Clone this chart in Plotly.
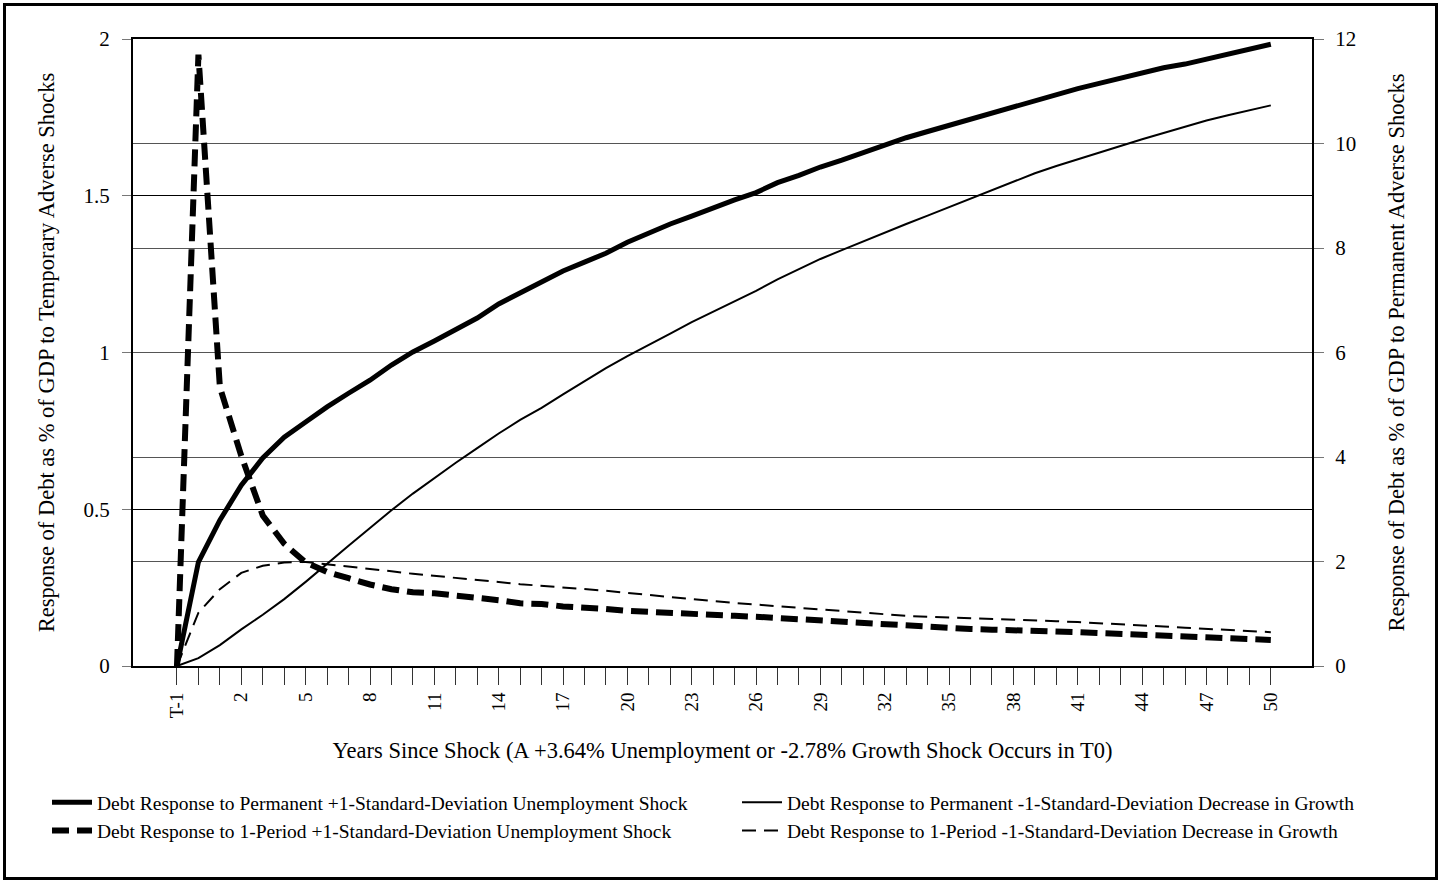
import plotly.graph_objects as go

categories = ["T-1", "T0"] + [str(k) for k in range(1, 51)]

# Permanent shocks (right axis, 0-12)
perm_unemp = [0, 1.99, 2.79, 3.46, 3.98, 4.38, 4.67, 4.96, 5.22, 5.47, 5.76, 6.01, 6.22, 6.43,
              6.66, 6.93, 7.14, 7.35, 7.56, 7.73, 7.90, 8.11, 8.29, 8.46, 8.61, 8.77, 8.92, 9.06,
              9.25, 9.39, 9.55, 9.68, 9.83, 9.97, 10.11, 10.23, 10.35, 10.47, 10.58, 10.70, 10.83,
              10.95, 11.05, 11.15, 11.25, 11.36, 11.45, 11.52, 11.62, 11.71, 11.80, 11.90]
perm_growth = [0, 0.15, 0.40, 0.70, 0.98, 1.28, 1.61, 1.96, 2.30, 2.64, 2.98, 3.30, 3.60, 3.89,
               4.17, 4.45, 4.71, 4.94, 5.20, 5.45, 5.70, 5.93, 6.14, 6.36, 6.58, 6.78, 6.98, 7.18,
               7.40, 7.60, 7.79, 7.96, 8.13, 8.30, 8.46, 8.62, 8.78, 8.94, 9.10, 9.26, 9.43, 9.57,
               9.70, 9.83, 9.96, 10.08, 10.20, 10.32, 10.44, 10.54, 10.64, 10.73]
# Temporary shocks (left axis, 0-2)
temp_unemp = [0, 1.95, 0.89, 0.67, 0.48, 0.39, 0.33, 0.30, 0.28, 0.26, 0.245, 0.235, 0.232, 0.226,
              0.22, 0.21, 0.20, 0.198, 0.19, 0.188, 0.182, 0.176, 0.172, 0.168, 0.165, 0.163, 0.160,
              0.157, 0.153, 0.148, 0.144, 0.140, 0.137, 0.132, 0.127, 0.124, 0.121, 0.118, 0.116,
              0.115, 0.113, 0.111, 0.108, 0.105, 0.102, 0.100, 0.097, 0.095, 0.093, 0.091, 0.088, 0.083]
temp_growth = [0, 0.17, 0.245, 0.297, 0.32, 0.33, 0.332, 0.325, 0.318, 0.31, 0.302, 0.294, 0.288,
               0.281, 0.275, 0.268, 0.261, 0.256, 0.250, 0.245, 0.240, 0.233, 0.226, 0.219, 0.213,
               0.207, 0.201, 0.196, 0.191, 0.186, 0.180, 0.175, 0.169, 0.164, 0.160, 0.157, 0.155,
               0.153, 0.151, 0.149, 0.146, 0.143, 0.140, 0.137, 0.134, 0.130, 0.126, 0.122, 0.118,
               0.114, 0.111, 0.108]

names = [
    "Debt Response to Permanent +1-Standard-Deviation Unemployment Shock",
    "Debt Response to 1-Period +1-Standard-Deviation Unemployment Shock",
    "Debt Response to Permanent -1-Standard-Deviation Decrease in Growth",
    "Debt Response to 1-Period -1-Standard-Deviation Decrease in Growth",
]

tick_text = [c if i % 3 == 0 else "" for i, c in enumerate(categories)]

FONT = "Liberation Serif, Times New Roman, serif"
W, H = 1442, 884
L, R, T, B = 133, 130, 39, 218
PW, PH = W - L - R, H - T - B

def px(xp):
    return (xp - L) / PW

def py(yp):
    return (H - B - yp) / PH

fig = go.Figure()
fig.add_trace(go.Scatter(x=categories, y=perm_unemp, name=names[0], yaxis="y2", mode="lines",
                         line=dict(color="black", width=5), legend="legend"))
fig.add_trace(go.Scatter(x=categories, y=temp_unemp, name=names[1], yaxis="y", mode="lines",
                         line=dict(color="black", width=6, dash="17px,8px"), legend="legend"))
fig.add_trace(go.Scatter(x=categories, y=perm_growth, name=names[2], yaxis="y2", mode="lines",
                         line=dict(color="black", width=2), legend="legend2"))
fig.add_trace(go.Scatter(x=categories, y=temp_growth, name=names[3], yaxis="y", mode="lines",
                         line=dict(color="black", width=2, dash="14px,8px"), legend="legend2"))

fig.update_layout(
    width=W, height=H,
    margin=dict(l=L, r=R, t=T, b=B),
    paper_bgcolor="white", plot_bgcolor="white",
    font=dict(family=FONT, color="black", size=18),
    xaxis=dict(
        type="category", range=[-2.05, 52.92],
        tickmode="array", tickvals=categories, ticktext=tick_text,
        tickangle=-90, ticks="outside", ticklen=17, tickcolor="#333", tickwidth=1,
        tickfont=dict(size=19),
        showgrid=False, showline=True, linecolor="black", linewidth=2, mirror=True,
        title=dict(text="Years Since Shock (A +3.64% Unemployment or -2.78% Growth Shock Occurs in T0)",
                   font=dict(size=22.5), standoff=25),
    ),
    yaxis=dict(
        range=[0, 2], tickvals=[0, 0.5, 1, 1.5, 2], ticktext=["0", "0.5", "1", "1.5", "2"],
        ticks="outside", ticklen=9, tickcolor="#777", tickfont=dict(size=21),
        ticklabelstandoff=8,
        showgrid=True, gridcolor="black", gridwidth=1, zeroline=False,
        showline=True, linecolor="black", linewidth=2,
        title=dict(text="Response of Debt as % of GDP to Temporary Adverse Shocks", font=dict(size=22.5), standoff=23),
    ),
    yaxis2=dict(
        range=[0, 12], tickvals=[0, 2, 4, 6, 8, 10, 12], overlaying="y", side="right",
        ticks="outside", ticklen=10, tickcolor="#777", tickfont=dict(size=21),
        ticklabelstandoff=7,
        showgrid=True, gridcolor="#555", gridwidth=1, zeroline=False,
        showline=True, linecolor="black", linewidth=2,
        title=dict(text="Response of Debt as % of GDP to Permanent Adverse Shocks", font=dict(size=22.5), standoff=33),
    ),
    legend=dict(x=px(47), y=py(783), xanchor="left", yanchor="top", orientation="v",
                font=dict(size=19.5), tracegroupgap=0, itemwidth=40, bgcolor="rgba(0,0,0,0)"),
    legend2=dict(x=px(737), y=py(783), xanchor="left", yanchor="top", orientation="v",
                 font=dict(size=19.5), tracegroupgap=0, itemwidth=40, bgcolor="rgba(0,0,0,0)"),
    shapes=[dict(type="rect", xref="paper", yref="paper",
                 x0=px(4.5), x1=px(1436.5), y0=py(878.5), y1=py(4.5),
                 line=dict(color="black", width=3), fillcolor="rgba(0,0,0,0)", layer="below")],
)

fig.write_html("out.html")
